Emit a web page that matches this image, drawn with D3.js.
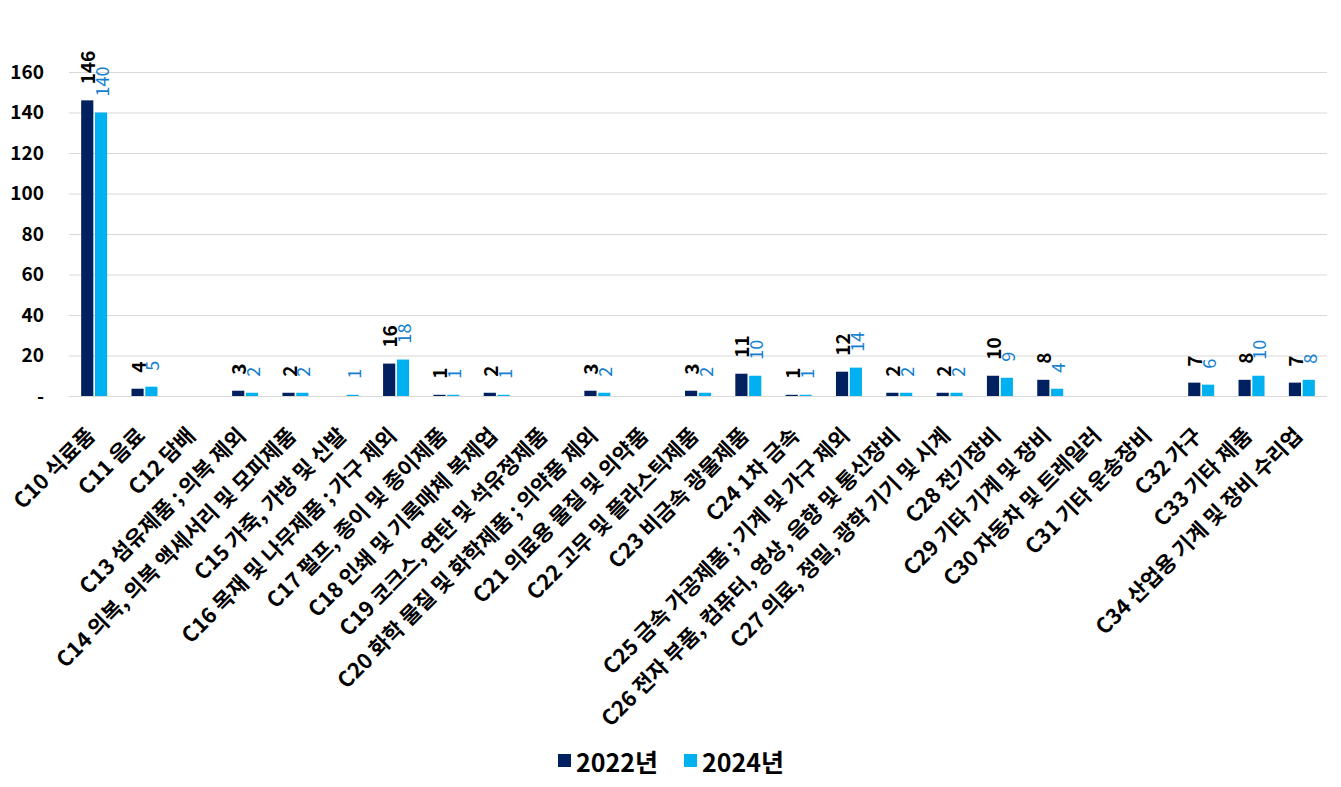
<!DOCTYPE html>
<html>
<head>
<meta charset="utf-8">
<script src="https://cdn.jsdelivr.net/npm/d3@7"></script>
<style>
  body { margin: 0; background: #fff; }
  text { font-family: "Noto Sans CJK KR", "Noto Sans", sans-serif; }
</style>
</head>
<body>
<div id="chart"></div>
<script>
// categories (x axis)
const categories = [
  "C10 식료품", "C11 음료", "C12 담배", "C13 섬유제품 ; 의복 제외",
  "C14 의복, 의복 액세서리 및 모피제품", "C15 가죽, 가방 및 신발",
  "C16 목재 및 나무제품 ; 가구 제외", "C17 펄프, 종이 및 종이제품",
  "C18 인쇄 및 기록매체 복제업", "C19 코크스, 연탄 및 석유정제품",
  "C20 화학 물질 및 화학제품 ; 의약품 제외", "C21 의료용 물질 및 의약품",
  "C22 고무 및 플라스틱제품", "C23 비금속 광물제품", "C24 1차 금속",
  "C25 금속 가공제품 ; 기계 및 가구 제외",
  "C26 전자 부품, 컴퓨터, 영상, 음향 및 통신장비",
  "C27 의료, 정밀, 광학 기기 및 시계", "C28 전기장비",
  "C29 기타 기계 및 장비", "C30 자동차 및 트레일러", "C31 기타 운송장비",
  "C32 가구", "C33 기타 제품", "C34 산업용 기계 및 장비 수리업"
];

const seriesNames = ["2022년", "2024년"];

// values (null = no bar)
const values2022 = [146, 3.6, null, 2.6, 1.6, null, 16, 0.6, 1.6, null, 2.6, null,
  2.6, 11, 0.6, 12, 1.6, 1.6, 10, 8, null, null, 6.6, 8, 6.6];
const values2024 = [140, 4.6, null, 1.6, 1.6, 0.6, 18, 0.6, 0.6, null, 1.6, null,
  1.6, 10, 0.6, 14, 1.6, 1.6, 9, 3.6, null, null, 5.6, 10, 8];

const yTicks = [0, 20, 40, 60, 80, 100, 120, 140, 160];

const barColors = ["#002060", "#00b0f0"];
const labelColors = ["#000000", "#1580d0"];

const width = 1341;
const height = 787;
const margin = {left: 69, right: 14, top: 72, bottom: 391};

const svg = d3.select("#chart")
  .append("svg")
  .attr("width", width)
  .attr("height", height);

// scales
const xScale = d3.scaleBand()
  .domain(d3.range(categories.length))
  .range([margin.left, width - margin.right])
  .padding(0);

const xInner = d3.scaleBand()
  .domain(d3.range(seriesNames.length))
  .range([-13, 13])
  .paddingInner(0.12);

const yScale = d3.scaleLinear()
  .domain([0, 160])
  .range([height - margin.bottom, margin.top]);

const center = i => xScale(i) + xScale.bandwidth() / 2;

// gridlines + y labels
const yAxis = svg.append("g")
  .attr("transform", `translate(${margin.left},0)`)
  .call(d3.axisLeft(yScale)
    .tickValues(yTicks)
    .tickSize(-(width - margin.left - margin.right))
    .tickPadding(25)
    .tickFormat(d => d === 0 ? "-" : d));
yAxis.select(".domain").remove();
yAxis.selectAll("line").attr("stroke", "#d9d9d9").attr("stroke-width", 1);
yAxis.selectAll("text")
  .attr("font-size", "19px")
  .attr("font-weight", "bold")
  .attr("fill", "#000")
  .attr("font-family", "Noto Sans CJK KR");

// bars + labels
const series = [values2022, values2024];
series.forEach((vals, s) => {
  const rows = vals.map((v, i) => ({i: i, v: v})).filter(d => d.v !== null);

  svg.selectAll(".bar" + s)
    .data(rows)
    .enter()
    .append("rect")
      .attr("class", "bar" + s)
      .attr("x", d => center(d.i) + xInner(s))
      .attr("y", d => yScale(d.v))
      .attr("width", xInner.bandwidth())
      .attr("height", d => yScale(0) - yScale(d.v))
      .attr("fill", barColors[s]);

  svg.selectAll(".lab" + s)
    .data(rows)
    .enter()
    .append("text")
      .attr("class", "lab" + s)
      .attr("transform", d => `translate(${center(d.i) + xInner(s) + xInner.bandwidth() / 2 + 8},${yScale(d.v) - 16}) rotate(-90)`)
      .attr("text-anchor", "start")
      .attr("font-size", s === 0 ? "19px" : "18px")
      .attr("font-weight", s === 0 ? "bold" : "normal")
      .attr("fill", labelColors[s])
      .text(d => d3.format(".0f")(d.v));
});

// x labels, slanted
svg.selectAll(".xlab")
  .data(categories)
  .enter()
  .append("text")
    .attr("class", "xlab")
    .attr("transform", (d, i) => `translate(${center(i) + 2},${yScale(0) + 41}) rotate(-45)`)
    .attr("text-anchor", "end")
    .attr("font-size", "21.5px")
    .attr("font-weight", "bold")
    .attr("fill", "#000")
    .text(d => d);

// legend
const legendX = [558, 684];
seriesNames.forEach((name, s) => {
  svg.append("rect")
    .attr("x", legendX[s])
    .attr("y", 754)
    .attr("width", 13)
    .attr("height", 13)
    .attr("fill", barColors[s]);
  svg.append("text")
    .attr("x", legendX[s] + 18)
    .attr("y", 772)
    .attr("font-size", "25px")
    .attr("font-weight", "bold")
    .attr("fill", "#000")
    .text(name);
});
</script>
</body>
</html>
